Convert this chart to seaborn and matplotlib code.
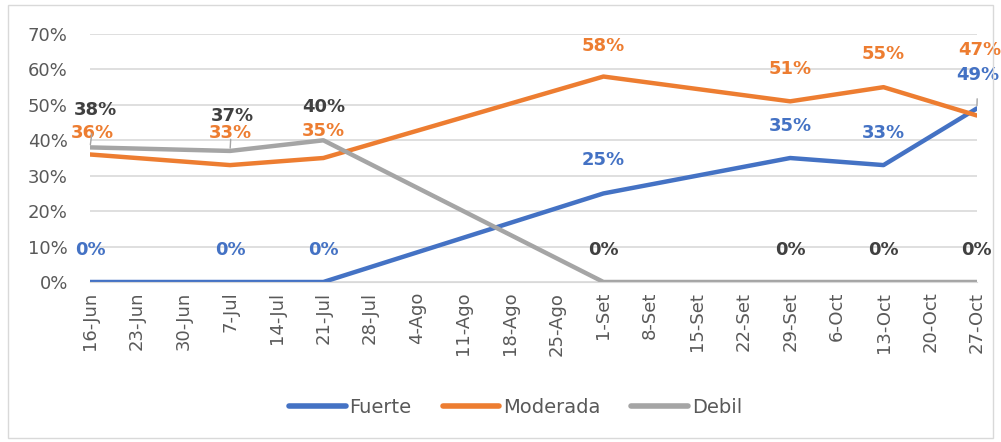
import pandas as pd
import seaborn as sns
from matplotlib import pyplot as plt
from matplotlib.patches import Rectangle

weeks = ['16-Jun', '23-Jun', '30-Jun', '7-Jul', '14-Jul', '21-Jul', '28-Jul',
         '4-Ago', '11-Ago', '18-Ago', '25-Ago', '1-Set', '8-Set', '15-Set',
         '22-Set', '29-Set', '6-Oct', '13-Oct', '20-Oct', '27-Oct']
dates = ['16-Jun', '7-Jul', '21-Jul', '1-Set', '29-Set', '13-Oct', '27-Oct']
fuerte = [0, 0, 0, 25, 35, 33, 49]
moderada = [36, 33, 35, 58, 51, 55, 47]
debil = [38, 37, 40, 0, 0, 0, 0]

series = {'Fuerte': fuerte, 'Moderada': moderada, 'Debil': debil}
colors = {'Fuerte': '#4472C4', 'Moderada': '#ED7D31', 'Debil': '#A5A5A5'}
label_colors = {'Fuerte': '#4472C4', 'Moderada': '#ED7D31', 'Debil': '#404040'}

rows = []
for name, vals in series.items():
    for d, v in zip(dates, vals):
        rows.append({'pos': weeks.index(d), 'value': v / 100, 'serie': name})
df = pd.DataFrame(rows)

sns.set_style('white')
plt.rcParams['font.family'] = ['DejaVu Sans']

fig = plt.figure(figsize=(10.01, 4.42), dpi=100)
fig.patches.append(Rectangle((0.008, 0.008), 0.984, 0.98, transform=fig.transFigure,
                             fill=False, edgecolor='#D9D9D9', linewidth=1))
ax = fig.add_axes([0.0899, 0.362, 0.886, 0.561])

sns.lineplot(data=df, x='pos', y='value', hue='serie', palette=colors,
             linewidth=3.2, ax=ax, legend=True)

ax.set_xlim(0, len(weeks) - 1)
ax.set_ylim(0, 0.70)
ax.set_yticks([i / 10 for i in range(8)])
ax.set_yticklabels([f'{i * 10}%' for i in range(8)], color='#595959', fontsize=13)
ax.set_xticks(range(len(weeks)))
ax.set_xticklabels(weeks, rotation=90, color='#595959', fontsize=13)
ax.tick_params(axis='y', length=0, pad=16)
ax.tick_params(axis='x', length=5, color='#D9D9D9', pad=2, direction='out')
ax.grid(axis='y', color='#D9D9D9', linewidth=1.2)
ax.set_axisbelow(True)
for s in ['top', 'left', 'right']:
    ax.spines[s].set_visible(False)
ax.spines['bottom'].set_color('#D9D9D9')
ax.set_xlabel('')
ax.set_ylabel('')

# label offsets in pixels (dx, dy)
offsets = {
    'Fuerte': [(0, 32), (0, 32), (0, 32), (0, 33), (0, 32), (0, 32), (1, 33)],
    'Moderada': [(2, 21), (0, 32), (0, 27), (0, 31), (0, 32), (0, 33), (3, 66)],
    'Debil': [(5, 37), (2, 35), (0, 33), (0, 32), (0, 32), (0, 32), (0, 32)],
}
leaders = {('Debil', 0), ('Debil', 1), ('Fuerte', 6)}
for name, vals in series.items():
    for i, (d, v) in enumerate(zip(dates, vals)):
        dx, dy = offsets[name][i]
        kw = {}
        if (name, i) in leaders:
            kw['arrowprops'] = dict(arrowstyle='-', color='#A5A5A5', lw=1,
                                    shrinkA=8, shrinkB=2)
        ax.annotate(f'{v}%', (weeks.index(d), v / 100), xytext=(dx, dy),
                    textcoords='offset pixels', ha='center', va='center',
                    fontsize=13, fontweight='bold', color=label_colors[name],
                    annotation_clip=False, **kw)

handles, labels = ax.get_legend_handles_labels()
ax.get_legend().remove()
for h in handles:
    h.set_linewidth(4)
fig.legend(handles, labels, loc='center', bbox_to_anchor=(0.515, 0.079), ncol=3,
           frameon=False, fontsize=14, handlelength=2.9, handletextpad=0.2,
           columnspacing=1.6, labelcolor='#595959')

fig.savefig('out.png', dpi=100)
